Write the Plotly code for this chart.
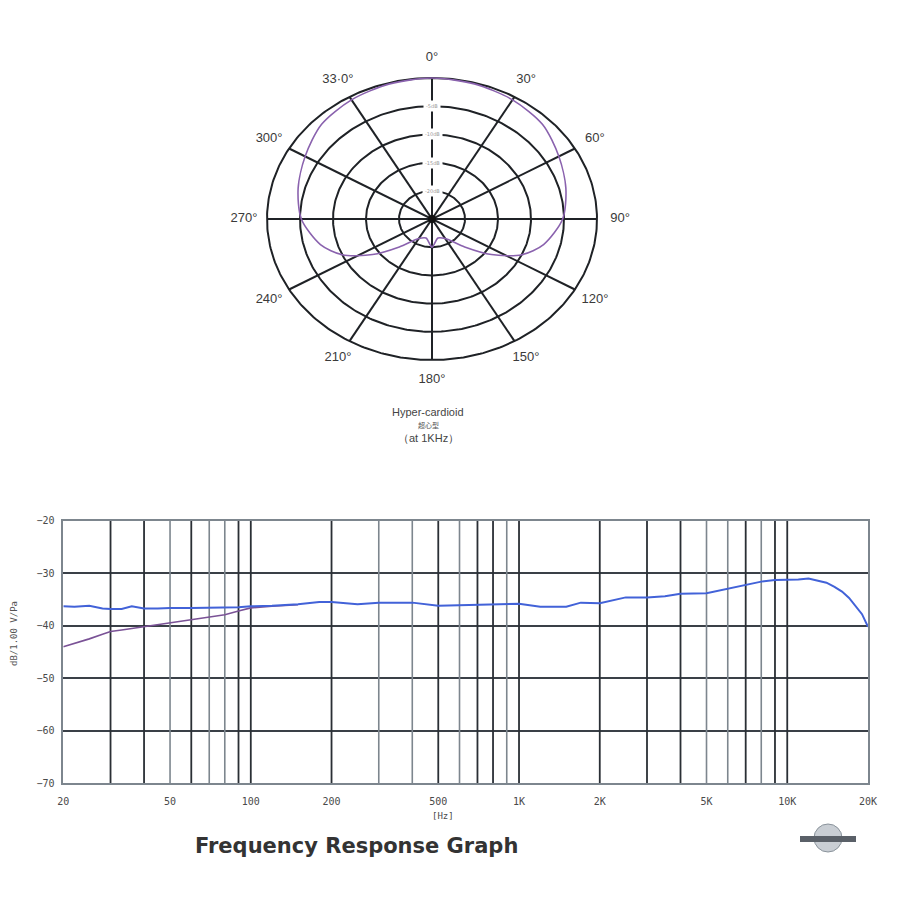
import numpy as np
import plotly.graph_objects as go

# ---------------- data ----------------
# Polar pattern (hyper-cardioid, at 1 kHz): angle (deg) -> relative level (dB)
polar_angles = [0, 15, 30, 45, 60, 75, 90, 105, 115, 125, 135, 150, 165, 180,
                195, 210, 225, 235, 245, 255, 270, 285, 300, 315, 330, 345, 360]
polar_db = [0.0, -0.2, -0.6, -1.3, -2.8, -4.0, -5.2, -7.5, -10.0, -14.0, -18.0, -21.0, -21.5, -20.0,
            -21.5, -21.0, -18.0, -14.0, -10.0, -7.5, -5.2, -4.0, -2.8, -1.3, -0.6, -0.2, 0.0]
ring_db = [0, -5, -10, -15, -20]
ring_labels = ["", "-5dB", "-10dB", "-15dB", "-20dB"]
spoke_angles = [0, 30, 60, 90, 120, 150]
angle_label_vals = [0, 30, 60, 90, 120, 150, 180, 210, 240, 270, 300, 330]
angle_label_text = ["0°", "30°", "60°", "90°", "120°", "150°", "180°", "210°", "240°", "270°", "300°", "33·0°"]

# Frequency response
freqs = [20, 22, 25, 28, 30, 33, 36, 40, 45, 50, 60, 70, 80, 90, 100, 120, 150, 180, 200, 250,
         300, 400, 500, 600, 700, 800, 1000, 1200, 1500, 1700, 2000, 2500, 3000, 3500, 4000,
         5000, 6000, 7000, 8000, 9000, 10000, 11000, 12000, 13000, 14000, 15000, 16000, 17000,
         18000, 19000, 20000]
blue_db = [-36.3, -36.4, -36.2, -36.7, -36.8, -36.8, -36.3, -36.7, -36.7, -36.6, -36.6, -36.6,
           -36.6, -36.5, -36.3, -36.2, -35.9, -35.5, -35.5, -35.9, -35.6, -35.6, -36.2, -36.1,
           -36.0, -36.0, -35.8, -36.4, -36.4, -35.6, -35.7, -34.6, -34.6, -34.4, -33.9, -33.8,
           -32.9, -32.2, -31.6, -31.3, -31.3, -31.2, -31.0, -31.4, -31.8, -32.6, -33.5, -34.7,
           -36.2, -37.8, -40.2]
purple_freqs = [20, 22, 25, 28, 30, 33, 36, 40, 45, 50, 60, 70, 80, 90, 100, 120, 150]
purple_db = [-44.0, -43.4, -42.5, -41.6, -41.1, -40.8, -40.5, -40.2, -39.8, -39.5, -38.8, -38.3,
             -37.9, -37.2, -36.6, -36.3, -36.0]

grid_dark = [30, 40, 60, 90, 100, 200, 500, 700, 800, 1000, 2000, 3000, 4000, 7000, 9000, 10000]
grid_light = [50, 70, 80, 300, 400, 600, 900, 5000, 6000, 8000]
xtick_vals = [20, 50, 100, 200, 500, 1000, 2000, 5000, 10000, 20000]
xtick_text = ["20", "50", "100", "200", "500", "1K", "2K", "5K", "10K", "20K"]
ytick_vals = [-20, -30, -40, -50, -60, -70]

# ---------------- helpers (page offset compensation) ----------------
OFF = 8.0
W = 900.0
def px(x):
    return (x - OFF) / W
def py(y):
    return 1 - (y - OFF) / W

# ---------------- figure ----------------
fig = go.Figure()

DARK = "#2a2f35"
LIGHT = "#7d868e"

def vlines(vals, lo, hi):
    xs, ys = [], []
    for v in vals:
        xs += [v, v, None]
        ys += [lo, hi, None]
    return xs, ys

xs, ys = vlines(grid_light, -70, -20)
fig.add_trace(go.Scatter(x=xs, y=ys, mode="lines", line=dict(color=LIGHT, width=1.6),
                         hoverinfo="skip", showlegend=False, xaxis="x", yaxis="y"))
xs, ys = vlines(grid_dark, -70, -20)
fig.add_trace(go.Scatter(x=xs, y=ys, mode="lines", line=dict(color=DARK, width=1.8),
                         hoverinfo="skip", showlegend=False, xaxis="x", yaxis="y"))

fig.add_trace(go.Scatter(x=purple_freqs, y=purple_db, mode="lines",
                         line=dict(color="#7a5296", width=1.6), showlegend=False,
                         xaxis="x", yaxis="y"))
fig.add_trace(go.Scatter(x=freqs, y=blue_db, mode="lines",
                         line=dict(color="#4262d8", width=2), showlegend=False,
                         xaxis="x", yaxis="y"))

# ---- polar (drawn on cartesian axes whose unequal scales make the ellipse) ----
def radius(db):
    return (np.asarray(db, dtype=float) + 25.0) / 25.0

t = np.linspace(0, 2 * np.pi, 361)
for db in ring_db:
    r = radius(db)
    fig.add_trace(go.Scatter(x=r * np.sin(t), y=r * np.cos(t), mode="lines",
                             line=dict(color="#1f2226", width=2), hoverinfo="skip",
                             showlegend=False, xaxis="x2", yaxis="y2"))
for a in spoke_angles:
    th = np.deg2rad(a)
    fig.add_trace(go.Scatter(x=[np.sin(th), -np.sin(th)], y=[np.cos(th), -np.cos(th)],
                             mode="lines", line=dict(color="#1f2226", width=2),
                             hoverinfo="skip", showlegend=False, xaxis="x2", yaxis="y2"))

pr = radius(polar_db)
pth = np.deg2rad(polar_angles)
fig.add_trace(go.Scatter(x=pr * np.sin(pth), y=pr * np.cos(pth), mode="lines",
                         line=dict(color="#8a62ae", width=1.6, shape="spline", smoothing=0.8),
                         showlegend=False, xaxis="x2", yaxis="y2"))
fig.add_trace(go.Scatter(x=[0], y=[0], mode="markers", marker=dict(color="#111", size=8),
                         hoverinfo="skip", showlegend=False, xaxis="x2", yaxis="y2"))

lth = np.deg2rad(angle_label_vals)
fig.add_trace(go.Scatter(x=1.14 * np.sin(lth), y=1.14 * np.cos(lth), mode="text",
                         text=angle_label_text,
                         textfont=dict(family="Liberation Sans", size=13, color="#3a3a3a"),
                         hoverinfo="skip", showlegend=False, xaxis="x2", yaxis="y2"))

annotations = []
for db, lab in zip(ring_db, ring_labels):
    if lab:
        annotations.append(dict(x=0, y=float(radius(db)), xref="x2", yref="y2", text=lab,
                                showarrow=False, bgcolor="white", borderpad=2,
                                font=dict(family="DejaVu Sans", size=5, color="#9a9a9a")))

def note(x, y, text, font, **kw):
    return dict(x=px(x), y=py(y), xref="paper", yref="paper", text=text, showarrow=False,
                xanchor="center", yanchor="middle", font=font, **kw)

annotations += [
    note(428, 412, "Hyper-cardioid", dict(family="Liberation Sans", size=11, color="#444")),
    note(428, 425, "超心型", dict(family="Noto Sans CJK SC", size=7, color="#555")),
    note(428, 438, "（at 1KHz）", dict(family="Liberation Sans", size=11, color="#444")),
    note(14, 634, "dB/1.00 V/Pa", dict(family="DejaVu Sans Mono", size=9, color="#555"),
         textangle=-90),
    note(443, 816, "[Hz]", dict(family="DejaVu Sans Mono", size=9, color="#4a4a4a")),
    note(356, 846, "<b>Frequency Response Graph</b>",
         dict(family="DejaVu Sans", size=21, color="#333")),
]

fig.update_layout(
    template="none",
    width=900, height=900, margin=dict(l=0, r=0, t=0, b=0, pad=0, autoexpand=False),
    paper_bgcolor="white", plot_bgcolor="white", showlegend=False,
    annotations=annotations,
    xaxis=dict(type="log", range=[np.log10(20), np.log10(20000)], automargin=False,
               domain=[px(63.3), px(868)], anchor="y",
               tickvals=xtick_vals, ticktext=xtick_text, showgrid=False, zeroline=False,
               showline=True, mirror=True, linecolor=LIGHT, linewidth=1.6,
               ticks="", ticklabelstandoff=8,
               tickfont=dict(family="DejaVu Sans Mono", size=10, color="#4a4a4a")),
    yaxis=dict(range=[-70, -20], domain=[py(783.3), py(520.7)], anchor="x",
               automargin=False,
               tickvals=ytick_vals, showgrid=True, gridcolor="#3a4047", gridwidth=1.6,
               zeroline=False, showline=True, mirror=True, linecolor=LIGHT, linewidth=1.6,
               ticks="", ticklabelstandoff=5,
               tickfont=dict(family="DejaVu Sans Mono", size=10, color="#4a4a4a")),
    xaxis2=dict(range=[-1.3, 1.3], domain=[px(217.5), px(646.5)], anchor="y2",
                visible=False, fixedrange=True, automargin=False),
    yaxis2=dict(range=[-1.3, 1.3], domain=[py(402.3), py(35.7)], anchor="x2",
                visible=False, fixedrange=True, automargin=False),
)

# small emblem at bottom right
fig.add_shape(type="circle", xref="paper", yref="paper",
              x0=px(814), x1=px(842), y0=py(852), y1=py(824),
              line=dict(color="#8a939b", width=1), fillcolor="#c9ced4")
fig.add_shape(type="rect", xref="paper", yref="paper",
              x0=px(800), x1=px(856), y0=py(842), y1=py(836),
              line=dict(width=0), fillcolor="#5a6068")

fig.write_html("out.html")
